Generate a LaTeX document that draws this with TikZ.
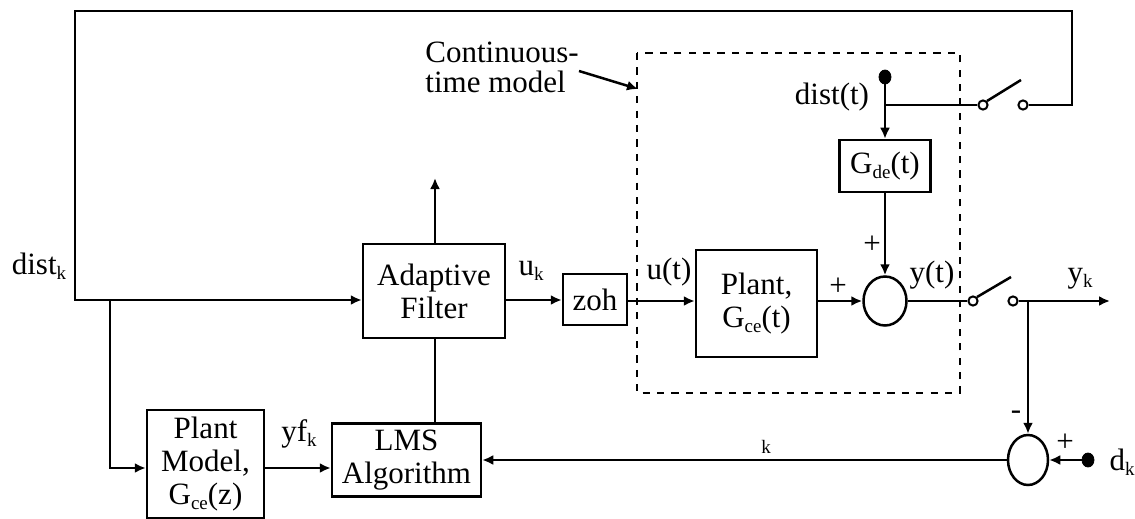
\documentclass[tikz,border=0pt]{standalone}
\usepackage{fontspec}
\setmainfont{Liberation Serif}
\usetikzlibrary{arrows.meta,shapes.geometric}

% small lowered subscript in text
\newcommand{\sbk}[1]{\raisebox{-0.32ex}{\fontsize{9.5pt}{10pt}\selectfont #1}}

\tikzset{
  wire/.style={line width=1.25pt},
  arr/.style={-{Latex[length=5.5pt,width=5pt]}},
  blockbox/.style={draw, line width=1.25pt, inner sep=0pt, align=center},
  sumnode/.style={draw, ellipse, line width=1.25pt, inner sep=0pt},
  contact/.style={draw, circle, fill=white, line width=1pt, inner sep=0pt, minimum size=4.6pt},
  srcdot/.style={draw, ellipse, fill=black, inner sep=0pt, minimum width=6pt, minimum height=7pt},
  lbl/.style={inner sep=0pt},
  every node/.style={font=\fontsize{15.5pt}{16.5pt}\selectfont},
}

\begin{document}
\begin{tikzpicture}[x=0.5pt,y=-0.5pt]
\useasboundingbox (0,0) rectangle (1135,519);

% blocks
\node[blockbox, minimum width=71pt, minimum height=47pt] (af) at (434,291) {Adaptive\\Filter};
\node[blockbox, minimum width=32pt, minimum height=25.5pt] (zoh) at (595,299.5) {zoh};
\node[blockbox, minimum width=60.5pt, minimum height=53.5pt] (plant) at (756.5,303.5) {Plant,\\G\sbk{ce}(t)};
\node[blockbox, minimum width=45.5pt, minimum height=26pt] (gde) at (885,166) {G\sbk{de}(t)};
\node[blockbox, minimum width=58.5pt, minimum height=54pt] (pm) at (205.5,464) {Plant\\Model,\\G\sbk{ce}(z)};
\node[blockbox, minimum width=74.5pt, minimum height=36.5pt] (lms) at (406.5,460) {LMS\\Algorithm};

% summing junctions
\node[sumnode, minimum width=21.5pt, minimum height=24.5pt] (sum1) at (885,301) {};
\node[sumnode, minimum width=20pt, minimum height=25pt] (sum2) at (1028,460) {};

% switch contacts and sources
\node[contact] (s1a) at (983,105) {};
\node[contact] (s1b) at (1023,105) {};
\node[contact] (s2a) at (973,301) {};
\node[contact] (s2b) at (1013,301) {};
\node[srcdot] (dd) at (885,77) {};
\node[srcdot] (dk) at (1088,460) {};

% helper points
\coordinate (tl) at (75,11);
\coordinate (tr) at (1072,11);
\coordinate (lvl) at (0,300);
\coordinate (br) at (110,300);
\coordinate (pmin) at (0,468);
\coordinate (afup) at (435,178);
\coordinate (db) at (885,105);
\coordinate (s1t) at (1021,80);
\coordinate (s2t) at (1011,277);
\coordinate (yout) at (1110,301);
\coordinate (ybr) at (1028,301);
\coordinate (ctA) at (579,71);
\coordinate (ctB) at (638,89);

% continuous-time region
\draw[line width=1.25pt, dash pattern=on 3.6pt off 3.6pt] (637,53) rectangle (960,393);

% disturbance feedback loop
\draw[wire,arr] (s1b.east) -- (s1b.east -| tr) -- (tr) -- (tl) -- (tl |- lvl) -- (af.west |- lvl);
\draw[wire,arr] (br) -- (br |- pmin) -- (pm.west |- pmin);
\draw[wire,arr] (pm.east |- pmin) -- (lms.west |- pmin);

% adaptive filter connections
\draw[wire,arr] (af.north -| afup) -- (afup);
\draw[wire] (af.south -| afup) -- (lms.north -| afup);
\draw[wire,arr] (af.east |- lvl) -- (zoh.west |- lvl);
\draw[wire,arr] (zoh.east |- sum1) -- (plant.west |- sum1);
\draw[wire,arr] (plant.east |- sum1) -- (sum1.west);

% disturbance path
\draw[wire,arr] (dd) -- (gde.north);
\draw[wire] (db) -- (s1a.west);
\draw[wire] (s1a.north east) -- (s1t);
\draw[wire,arr] (gde.south) -- (sum1.north);

% output sampling and error
\draw[wire] (sum1.east) -- (s2a.west);
\draw[wire] (s2a.north east) -- (s2t);
\draw[wire,arr] (s2b.east) -- (yout);
\draw[wire,arr] (ybr) -- (sum2.north);
\draw[wire,arr] (dk) -- (sum2.east);
\draw[wire,arr] (sum2.west) -- (lms.east |- sum2);

% annotation arrow
\draw[wire,arr] (ctA) -- (ctB);

% labels
\node[lbl, align=left, anchor=base west, font=\fontsize{15.5pt}{15pt}\selectfont] (ctl) at (425,93) {Continuous-\\time model};
\node[lbl] (ldistk) at (39,266) {dist\sbk{k}};
\node[lbl] (luk) at (531,271) {u\sbk{k}};
\node[lbl] (lut) at (669,272) {u(t)};
\node[lbl] (lyt) at (932,275) {y(t)};
\node[lbl] (lyk) at (1080,279) {y\sbk{k}};
\node[lbl] (ldist) at (832,97) {dist(t)};
\node[lbl] (lyf) at (299,434) {yf\sbk{k}};
\node[lbl] (lp1) at (838,287) {+};
\node[lbl] (lp2) at (872,245) {+};
\node[lbl] (lm) at (1016,415) {-};
\node[lbl] (lp3) at (1065,443) {+};
\node[lbl] (ldk) at (1122,462) {d\sbk{k}};
\node[lbl, font=\fontsize{9.5pt}{10pt}\selectfont] (lk) at (766,447) {k};
\end{tikzpicture}
\end{document}
